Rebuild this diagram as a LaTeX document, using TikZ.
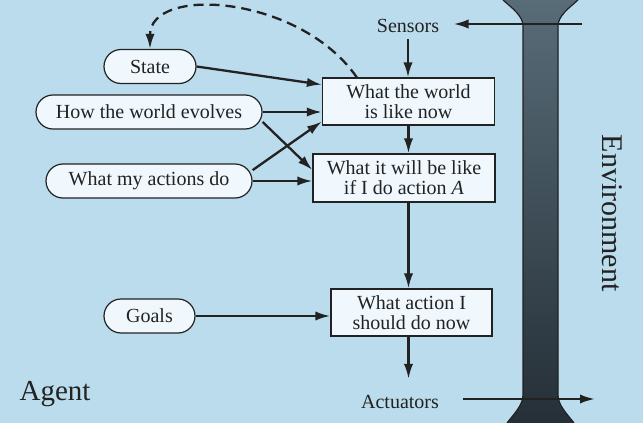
\documentclass[tikz,border=0pt]{standalone}
\usepackage{fontspec}
\setmainfont{Liberation Serif}
\usetikzlibrary{arrows.meta}
\definecolor{agentbg}{HTML}{BBDCEC}
\definecolor{boxfill}{HTML}{F0F8FE}
\definecolor{inkdark}{HTML}{222222}
\definecolor{envtop}{HTML}{586C78}
\definecolor{envbot}{HTML}{252F37}
\tikzset{
  % Rounded knowledge items
  knowbox/.style={
    rectangle, rounded corners=8.5pt, minimum height=17pt,
    draw=inkdark, fill=boxfill, line width=0.6pt, inner sep=0pt,
    font=\fontsize{10}{10}\selectfont, text=inkdark,
  },
  % Reasoning boxes
  procbox/.style={
    rectangle, minimum height=23.5pt, draw=inkdark, fill=boxfill,
    line width=0.6pt, inner sep=0pt, align=center,
    font=\fontsize{10}{10}\selectfont, text=inkdark,
  },
  % Arrows
  myarrow/.style={-{Latex[length=7.5pt,width=4.6pt]}, line width=1.15pt, draw=inkdark},
  dasharrow/.style={myarrow, dash pattern=on 5pt off 3pt},
  % Plain labels
  plainlabel/.style={font=\fontsize{10}{12}\selectfont, text=inkdark},
}

\begin{document}
\begin{tikzpicture}[x=0.5pt, y=-0.5pt]

  \fill[agentbg] (0,0) rectangle (643,423);
  \useasboundingbox (0,0) rectangle (643,423);

  % Environment column
  \shade[top color=envtop, bottom color=envbot]
    (503,0) .. controls (512,8) and (523,16) .. (523,26) -- (523,395)
    .. controls (523,405) and (514,414) .. (507,423) -- (574,423)
    .. controls (567,414) and (558,405) .. (558,395) -- (558,26)
    .. controls (558,16) and (569,8) .. (578,0) -- cycle;
  \draw[inkdark, line width=0.6pt]
    (503,0) .. controls (512,8) and (523,16) .. (523,26) -- (523,395)
    .. controls (523,405) and (514,414) .. (507,423);
  \draw[inkdark, line width=0.6pt]
    (578,0) .. controls (569,8) and (558,16) .. (558,26) -- (558,395)
    .. controls (558,405) and (567,414) .. (574,423);

  % Knowledge items
  \node[knowbox, minimum width=46pt] (state) at (150,66.5) {State};
  \node[knowbox, minimum width=113pt] (evolves) at (149,112) {How the world evolves};
  \node[knowbox, minimum width=103pt] (actions) at (149,181) {What my actions do};
  \node[knowbox, minimum width=45.5pt] (goals) at (149.5,316) {Goals};

  % Reasoning steps
  \node[procbox, minimum width=86pt] (now) at (408.5,101.5) {What the world\\is like now};
  \node[procbox, minimum width=91pt, minimum height=24pt] (ifdo) at (404,178)
    {What it will be like\\if I do action \textit{A}};
  \node[procbox, minimum width=80.5pt] (todo) at (411.5,312.5) {What action I\\should do now};

  % Labels
  \node[plainlabel, inner xsep=7pt, inner ysep=3pt] (sensors) at (408,26) {Sensors};
  \node[plainlabel, inner xsep=12pt, inner ysep=8pt] (actuators) at (400,402) {Actuators};
  \node[font=\fontsize{14.5}{17}\selectfont, text=inkdark] (agent) at (55,394) {Agent};
  \node[font=\fontsize{15}{18}\selectfont, text=inkdark, rotate=-90] (env) at (612,213) {Environment};
  \coordinate (sensin) at (582,24);
  \coordinate (actout) at (595,399);

  % Arrows
  \draw[myarrow] (sensin) -- (sensin -| sensors.east);
  \draw[myarrow] (sensors.south) -- (sensors.south |- now.north);
  \draw[myarrow] (now.south) -- (now.south |- ifdo.north);
  \draw[myarrow] (now.south |- ifdo.south) -- (now.south |- todo.north);
  \draw[myarrow] (now.south |- todo.south) -- (now.south |- actuators.north);
  \draw[myarrow] (actuators.east |- actout) -- (actout);
  \draw[myarrow] (state.east) -- (now.169);
  \draw[myarrow] (evolves.east) -- (evolves.east -| now.west);
  \draw[myarrow] (evolves.-5) -- (ifdo.175);
  \draw[myarrow] (actions.6) -- (now.193);
  \draw[myarrow] (actions.east) -- (actions.east -| ifdo.west);
  \draw[myarrow] (goals.east) -- (goals.east -| todo.west);
  \draw[dasharrow] (now.155) .. controls (300,-5) and (150,-15) .. (state.north);

\end{tikzpicture}
\end{document}
